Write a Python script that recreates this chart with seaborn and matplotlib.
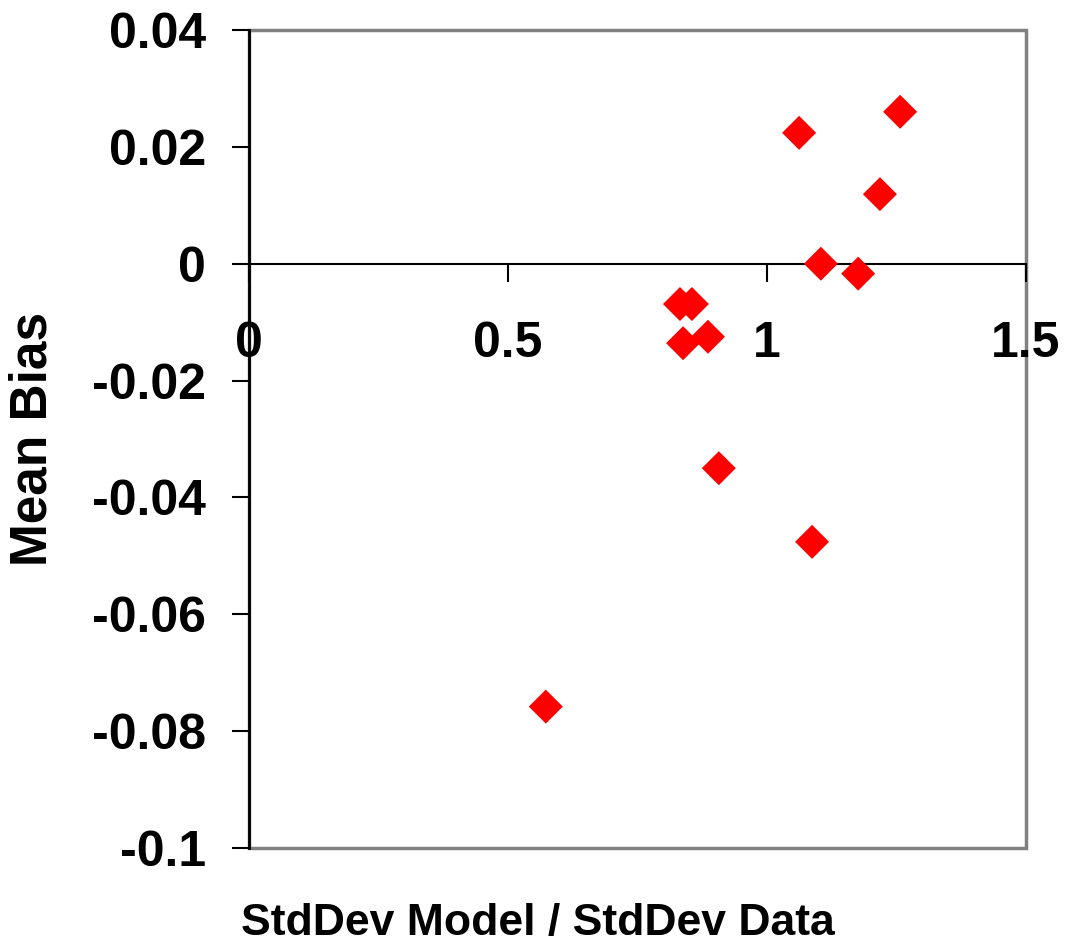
import matplotlib
matplotlib.use("Agg")
import matplotlib.pyplot as plt
import seaborn as sns
import pandas as pd
from matplotlib.patches import Rectangle

# Data
std_ratio = [1.062, 1.257, 1.218, 1.104, 1.176, 0.832, 0.855, 0.838, 0.886, 0.907, 1.087, 0.573]
mean_bias = [0.0224, 0.0260, 0.0119, 0.0000, -0.0017, -0.0069, -0.0069, -0.0136, -0.0125, -0.0350, -0.0476, -0.0758]
x_ticks = [0, 0.5, 1, 1.5]
x_tick_labels = ["0", "0.5", "1", "1.5"]
y_ticks = [0.04, 0.02, 0, -0.02, -0.04, -0.06, -0.08, -0.1]
y_tick_labels = ["0.04", "0.02", "0", "-0.02", "-0.04", "-0.06", "-0.08", "-0.1"]

df = pd.DataFrame({"ratio": std_ratio, "bias": mean_bias})

sns.set_style("white")
plt.rcParams["font.family"] = ["Liberation Sans", "DejaVu Sans"]
plt.rcParams["font.weight"] = "bold"

fig = plt.figure(figsize=(10.65, 9.44), dpi=100)
ax = fig.add_axes([249 / 1065, 1 - 848 / 944, (1026 - 249) / 1065, (848 - 30) / 944])

sns.scatterplot(data=df, x="ratio", y="bias", marker="D", color="#FF0000",
                s=300, edgecolor="none", linewidth=0, ax=ax, zorder=5, clip_on=False)

ax.set_xlim(0, 1.5)
ax.set_ylim(-0.1, 0.04)

ax.set_xticks(x_ticks)
ax.set_xticklabels(x_tick_labels)
ax.set_yticks(y_ticks)
ax.set_yticklabels(y_tick_labels)

# spines: y axis black, x axis crossing at 0, grey plot-area border
ax.spines["left"].set_color("black")
ax.spines["left"].set_linewidth(2)
ax.spines["bottom"].set_position(("data", 0))
ax.spines["bottom"].set_color("black")
ax.spines["bottom"].set_linewidth(1.5)
for s in ["top", "right"]:
    ax.spines[s].set_visible(False)
ax.add_patch(Rectangle((0, 0), 1, 1, transform=ax.transAxes, fill=False,
                       edgecolor="#808080", linewidth=2.5, zorder=0, clip_on=False))

ax.tick_params(axis="y", direction="out", length=12, width=1.5, pad=19,
               labelsize=36, colors="black", left=True)
ax.tick_params(axis="x", direction="out", length=13, width=1.5, pad=28,
               labelsize=36, colors="black", bottom=True)
for lbl in ax.get_xticklabels() + ax.get_yticklabels():
    lbl.set_fontweight("bold")

ax.set_xlabel("StdDev Model / StdDev Data", fontsize=32, fontweight="bold",
              color="black")
ax.set_ylabel("Mean Bias", fontsize=37, fontweight="bold", color="black")
ax.xaxis.set_label_coords(0.372, -0.067)
ax.yaxis.set_label_coords(-0.246, 0.5)

fig.savefig("out.png", dpi=100, facecolor="white")
